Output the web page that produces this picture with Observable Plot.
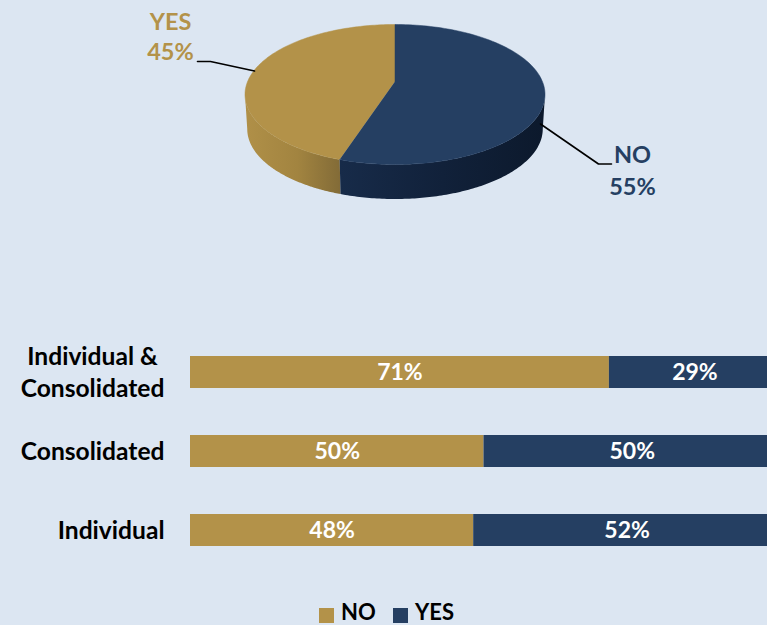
<!DOCTYPE html>
<html>
<head>
<meta charset="utf-8">
<script src="https://cdn.jsdelivr.net/npm/d3@7"></script>
<script src="https://cdn.jsdelivr.net/npm/@observablehq/plot@0.6"></script>
<style>
html,body{margin:0;padding:0;background:#dce6f2;overflow:hidden;width:767px;height:625px}
svg{display:block;background:transparent}
#legend{position:absolute;left:319px;top:600.5px;white-space:nowrap;height:22px}
#legend .leg-swatches{font:bold 22px/22px Lato,sans-serif;color:#000;min-height:0;margin:0;display:flex;align-items:center;height:22px}
#legend .leg-swatch{margin-right:0;margin-left:0;display:inline-flex;align-items:center;gap:7px;width:74px;line-height:22px;height:22px}
#legend .leg-swatch svg{margin:0;position:relative;top:3.5px}
</style>
</head>
<body>
<div id="pie"></div>
<div id="bars"></div>
<div id="legend"></div>
<script>
const categories = ["Individual &\nConsolidated", "Consolidated", "Individual"];
const noValues = [71, 49.75, 48];
const yesValues = [29, 50.25, 52];
const seriesNames = ["NO", "YES"];
const seriesColors = ["#b39249", "#253f62"];
const pieNames = ["NO", "YES"];
const pieShares = [55, 45];
const pieColors = ["#253f62", "#b39249"];

const font = "Lato, sans-serif";
const barRows = categories.flatMap((c, i) => [
  {cat: c, series: "NO", value: noValues[i]},
  {cat: c, series: "YES", value: yesValues[i]}
]);

// perspective projection of a disc (theta clockwise from the top, in degrees)
const cam = {cx: 394.5, cy: 81, b: 147.4, a: 67.6, c: 0.1857, depth: 34.5, shrink: 0.985};
const proj = (deg, low = false) => {
  const t = deg * Math.PI / 180, w = 1 + cam.c * Math.cos(t);
  const k = low ? cam.shrink : 1;
  return {
    x: cam.cx + k * cam.b * Math.sin(t) / w,
    y: cam.cy - cam.a * Math.cos(t) / w + (low ? cam.depth : 0)
  };
};
const arc = (from, to, low) => d3.range(0, 121).map(i => proj(from + (to - from) * i / 120, low));
const noEnd = pieShares[0] * 3.6;
const wallStart = Math.acos(-cam.c) * 180 / Math.PI;
const wallEnd = 360 - wallStart;

const topNo = [{x: cam.cx, y: cam.cy}, ...arc(0, noEnd)];
const topYes = [{x: cam.cx, y: cam.cy}, ...arc(noEnd, 360)];
const wallNo = [...arc(wallStart, noEnd), ...arc(noEnd, wallStart, true)];
const wallYes = [...arc(noEnd, wallEnd), ...arc(wallEnd, noEnd, true)];

const leaderYes = [{x: 197, y: 61}, {x: 210, y: 61}, {x: 254, y: 70.5}];
const leaderNo = [{x: 540, y: 123.5}, {x: 598, y: 163.5}, {x: 611, y: 163.5}];
const pieLabels = [
  {x: 170, y: 22, t: "YES", c: pieColors[1]},
  {x: 170, y: 52, t: pieShares[1] + "%", c: pieColors[1]},
  {x: 632, y: 155, t: pieNames[0], c: pieColors[0]},
  {x: 632, y: 187, t: pieShares[0] + "%", c: pieColors[0]}
];

const defs = () => {
  const d = d3.create("svg:defs");
  const grad = (id, stops) => {
    const g = d.append("linearGradient").attr("id", id).attr("x1", 0).attr("x2", 1).attr("y1", 0).attr("y2", 0);
    stops.forEach(([o, c]) => g.append("stop").attr("offset", o).attr("stop-color", c));
  };
  grad("wallYes", [[0, "#b09048"], [0.55, "#a28440"], [1, "#826b37"]]);
  grad("wallNo", [[0, "#172b49"], [0.5, "#11213a"], [1, "#0c192c"]]);
  return d.node();
};

const poly = (pts, fill) => Plot.line(pts, {x: "x", y: "y", fill, stroke: fill.startsWith("url") ? "none" : fill, strokeWidth: 0.5, curve: "linear"});

const pie = Plot.plot({
  width: 767, height: 250,
  margin: 0,
  style: {background: "transparent"},
  x: {type: "linear", domain: [0, 767], range: [0, 767], axis: null},
  y: {type: "linear", domain: [0, 250], range: [0, 250], axis: null},
  marks: [
    defs,
    poly(wallYes, "url(#wallYes)"),
    poly(wallNo, "url(#wallNo)"),
    poly(topYes, pieColors[1]),
    poly(topNo, pieColors[0]),
    Plot.line(leaderYes, {x: "x", y: "y", stroke: "#000", strokeWidth: 1.6}),
    Plot.line(leaderNo, {x: "x", y: "y", stroke: "#000", strokeWidth: 1.6}),
    Plot.text(pieLabels, {x: "x", y: "y", text: "t", fill: d => d.c, fontSize: 23.5, fontWeight: 700, fontFamily: font})
  ]
});
document.getElementById("pie").append(pie);

const axisStyle = {tickSize: 0, fontSize: 24.6, fontWeight: 700, fontFamily: font, fill: "#000", lineHeight: 1.3, label: null, dy: -2};
const bars = Plot.plot({
  width: 767, height: 345,
  marginLeft: 190, marginRight: 0, marginTop: 0, marginBottom: 0,
  style: {background: "transparent"},
  x: {domain: [0, 100], range: [190, 780], axis: null},
  y: {domain: categories, range: [58.5, 343.6], padding: 0.6, align: 0.5, label: null, axis: null},
  color: {domain: seriesNames, range: seriesColors},
  marks: [
    Plot.barX(barRows, Plot.stackX({x: "value", y: "cat", fill: "series", order: null, clip: true})),
    Plot.text(barRows, Plot.stackX({x: "value", y: "cat", z: "series", order: null, text: d => Math.round(d.value) + "%", fill: "#fff", fontSize: 23, fontWeight: 700, fontFamily: font, dy: 0})),
    Plot.axisY(categories.slice(0, 1), {...axisStyle, tickPadding: 98, textAnchor: "middle"}),
    Plot.axisY(categories.slice(1), {...axisStyle, tickPadding: 26})
  ]
});
document.getElementById("bars").append(bars);

const legend = Plot.legend({
  color: {domain: seriesNames, range: seriesColors},
  legend: "swatches", swatchSize: 15, className: "leg"
});
document.getElementById("legend").append(legend);
</script>
</body>
</html>
